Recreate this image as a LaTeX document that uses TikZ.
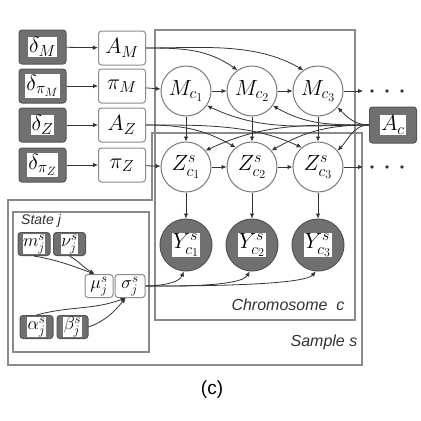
\RequirePackage{fix-cm}
\documentclass[tikz,border=0pt]{standalone}
\usepackage{fontspec}
\newfontfamily\lsans{Liberation Sans}
\DeclareMathSizes{22}{22}{16}{12}
\DeclareMathSizes{18}{18}{13}{10}
\usetikzlibrary{arrows.meta}
\definecolor{dgray}{HTML}{6E7072}
\definecolor{bgray}{HTML}{555555}
\definecolor{lgray}{HTML}{8C8C8C}
\definecolor{cgray}{HTML}{7A7A7A}
\definecolor{pgray}{HTML}{8A8A8A}
\newcommand\wl[1]{{\setlength{\fboxsep}{1pt}\colorbox{white}{#1}}}
\newcommand\wls[1]{{\setlength{\fboxsep}{0.5pt}\colorbox{white}{#1}}}
\begin{document}
\begin{tikzpicture}[x=1pt,y=1pt,font=\fontsize{22}{24}\selectfont,
  dk/.style={draw=bgray,fill=dgray,rounded corners=3pt,line width=1pt,inner sep=0pt},
  wb/.style={draw=lgray,fill=white,rounded corners=3pt,line width=1pt,inner sep=0pt},
  big/.style={minimum width=47pt,minimum height=34pt},
  small/.style={minimum width=32pt,minimum height=23pt,font=\fontsize{18}{20}\selectfont},
  cir/.style={circle,draw=cgray,fill=white,line width=1pt,minimum size=50pt,inner sep=0pt},
  ycir/.style={circle,draw=bgray,fill=dgray,line width=1pt,minimum size=52pt,inner sep=0pt},
  plate/.style={draw=pgray,line width=1.2pt},
  arr/.style={-{Latex[length=5pt,width=4.5pt]},line width=0.8pt,draw=black!80},
  lab/.style={font=\lsans\itshape\fontsize{16}{18}\selectfont,text=black!80,inner sep=0pt}
]
\useasboundingbox[fill=white] (0,0) rectangle (421,-421);
% plates
\draw[plate] (155,-30) rectangle (355,-320);
\draw[plate] (152,-133) -- (362,-133) -- (362,-365) -- (8,-365) -- (8,-200) -- (152,-200) -- cycle;
\draw[plate] (13,-212) rectangle (149,-352);
% left column
\node[dk,big] (dM) at (42.5,-47) {\wl{$\delta_M$}};
\node[dk,big] (dpM) at (42.5,-86) {\wl{$\delta_{\pi_M}$}};
\node[dk,big] (dZ) at (42.5,-125) {\wl{$\delta_Z$}};
\node[dk,big] (dpZ) at (42.5,-165) {\wl{$\delta_{\pi_Z}$}};
\node[wb,big] (AM) at (122,-48) {$A_M$};
\node[wb,big] (pM) at (122,-86) {$\pi_M$};
\node[wb,big] (AZ) at (122,-125) {$A_Z$};
\node[wb,big] (pZ) at (122,-165) {$\pi_Z$};
% circles
\node[cir] (M1) at (186,-91) {$M_{c_1}$};
\node[cir] (M2) at (252,-91) {$M_{c_2}$};
\node[cir] (M3) at (318,-91) {$M_{c_3}$};
\node[cir] (Z1) at (186,-167) {$Z^s_{c_1}$};
\node[cir] (Z2) at (252,-167) {$Z^s_{c_2}$};
\node[cir] (Z3) at (318,-167) {$Z^s_{c_3}$};
\node[ycir] (Y1) at (186,-245) {\wl{$Y^s_{c_1}$}};
\node[ycir] (Y2) at (252,-245) {\wl{$Y^s_{c_2}$}};
\node[ycir] (Y3) at (318,-245) {\wl{$Y^s_{c_3}$}};
\node[dk,minimum width=47pt,minimum height=36pt] (Ac) at (393,-125) {\wl{$A_c$}};
\coordinate (Mend) at (363,-91);
\coordinate (Zend) at (363,-167);
% state j
\node[dk,small] (m) at (34,-244) {\wls{$m^s_j$}};
\node[dk,small] (nu) at (69.5,-244) {\wls{$\nu^s_j$}};
\node[wb,small,minimum width=28pt] (mu) at (99,-286) {$\mu^s_j$};
\node[wb,small,minimum width=30pt] (sg) at (130,-286) {$\sigma^s_j$};
\node[dk,small,minimum width=33pt] (al) at (36.5,-327) {\wls{$\alpha^s_j$}};
\node[dk,small,minimum width=31pt] (be) at (72.5,-327) {\wls{$\beta^s_j$}};
% labels
\node[lab,anchor=west,font=\lsans\itshape\fontsize{14}{16}\selectfont] (tS) at (21,-221) {State j};
\node[lab] (tC) at (288,-305) {Chromosome\ \ c};
\node[lab] (tSa) at (324,-342) {Sample s};
\node[font=\lsans\fontsize{19}{21}\selectfont,inner sep=0pt] (tc) at (212,-390) {(c)};
% dots
\foreach \x in {372,387,402} {\fill[black!80] (\x,-91) circle (1.8pt); \fill[black!80] (\x,-167) circle (1.8pt);}
% edges
\draw[arr] (dM) -- (AM);
\draw[arr] (dpM) -- (pM);
\draw[arr] (dZ) -- (AZ);
\draw[arr] (dpZ) -- (pZ);
\draw[arr] (pM) -- (M1);
\draw[arr] (pZ) -- (Z1);
\draw[arr] (M1) -- (M2);
\draw[arr] (M2) -- (M3);
\draw[arr] (M3) -- (Mend);
\draw[arr] (Z1) -- (Z2);
\draw[arr] (Z2) -- (Z3);
\draw[arr] (Z3) -- (Zend);
\foreach \i in {1,2,3} {
  \draw[arr] (M\i) -- (Z\i);
  \draw[arr] (Z\i) -- (Y\i);
}
\draw[arr] (AM.east) to[out=0,in=145] (M2.125);
\draw[arr] (AM.east) to[out=0,in=150,looseness=0.9] (M3.125);
\draw[arr] (AZ.east) to[out=0,in=150] (Z2.130);
\draw[arr] (AZ.east) to[out=0,in=155,looseness=0.9] (Z3.130);
\draw[arr] (Ac.west) to[out=180,in=-25] (M1.-35);
\draw[arr] (Ac.west) to[out=180,in=-30] (M2.-35);
\draw[arr] (Ac.west) to[out=180,in=-45] (M3.-40);
\draw[arr] (Ac.west) to[out=180,in=25] (Z1.40);
\draw[arr] (Ac.west) to[out=180,in=30] (Z2.40);
\draw[arr] (Ac.west) to[out=180,in=45] (Z3.40);
\draw[arr] (sg.east) to[out=0,in=-110,looseness=0.8] (Y1.-95);
\draw[arr] (sg.east) to[out=0,in=-120,looseness=0.45] (Y2.-95);
\draw[arr] (sg.east) to[out=0,in=-130,looseness=0.3] (Y3.-95);
\draw[arr] (m.south) to[out=-10,in=160] (mu.110);
\draw[arr] (nu.south) to[out=-30,in=150] (mu.110);
\draw[arr] (al.north) to[out=15,in=200] (sg.250);
\draw[arr] (be.east) to[out=20,in=230] (sg.250);
\end{tikzpicture}
\end{document}
